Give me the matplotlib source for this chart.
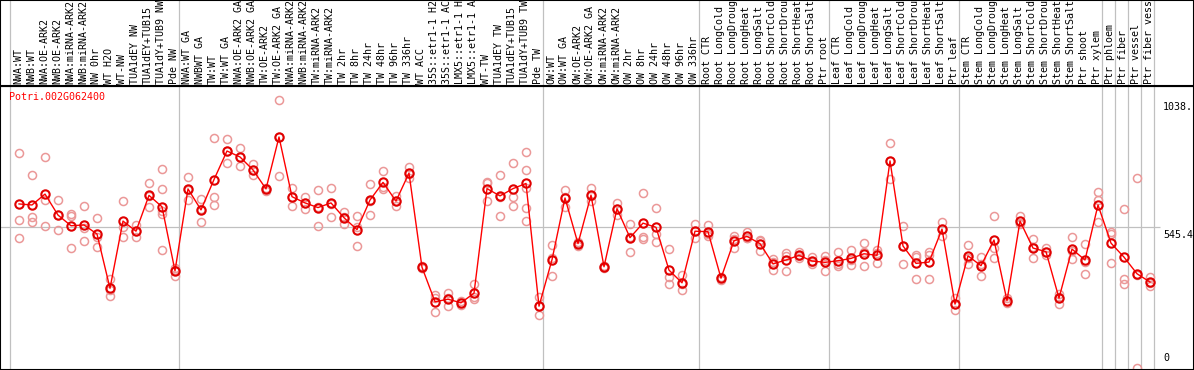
import matplotlib
matplotlib.use('Agg')
import matplotlib.pyplot as plt

GENE = 'Potri.002G062400'

# sample labels, one per column (left to right)
LAB_NW = ['NWA:WT', 'NWB:WT', 'NWA:OE-ARK2', 'NWB:OE-ARK2', 'NWA:miRNA-ARK2', 'NWB:miRNA-ARK2',
          'NW 0hr', 'WT H2O', 'WT-NW', 'TUA1dEY NW', 'TUA1dEY+TUB15', 'TUA1dY+TUB9 NW', 'Pde NW']
LAB_TW = ['NWA:WT GA', 'NWBWT GA', 'TW:WT', 'TW:WT GA', 'NWA:OE-ARK2 GA', 'NWB:OE-ARK2 GA',
          'TW:OE-ARK2', 'TW:OE-ARK2 GA', 'NWA:miRNA-ARK2 GA', 'NWB:miRNA-ARK2 GA', 'TW:miRNA-ARK2',
          'TW:miRNA-ARK2', 'TW 2hr', 'TW 8hr', 'TW 24hr', 'TW 48hr', 'TW 96hr', 'TW 336hr', 'WT ACC',
          '35S::etr1-1 H2O', '35S::etr1-1 ACC', 'LMX5::etr1-1 H2O', 'LMX5::etr1-1 ACC', 'WT-TW',
          'TUA1dEY TW', 'TUA1dEY+TUB15', 'TUA1dY+TUB9 TW', 'Pde TW']
LAB_OW = ['OW:WT', 'OW:WT GA', 'OW:OE-ARK2', 'OW:OE-ARK2 GA', 'OW:miRNA-ARK2', 'OW:miRNA-ARK2',
          'OW 2hr', 'OW 8hr', 'OW 24hr', 'OW 48hr', 'OW 96hr', 'OW 336hr']
STRESS = ['CTR', 'LongCold', 'LongDrought', 'LongHeat', 'LongSalt',
          'ShortCold', 'ShortDrought', 'ShortHeat', 'ShortSalt']
LAB_ROOT = ['Root ' + s for s in STRESS] + ['Ptr root']
LAB_LEAF = ['Leaf ' + s for s in STRESS] + ['Ptr leaf']
LAB_STEM = ['Stem ' + s for s in STRESS] + ['Ptr shoot', 'Ptr xylem']
LAB_PTR = ['Ptr phloem', 'Ptr fiber', 'Ptr vessel', 'Ptr fiber vessel']
LABELS = LAB_NW + LAB_TW + LAB_OW + LAB_ROOT + LAB_LEAF + LAB_STEM + LAB_PTR

# group boundaries (column index)
BOUNDS = [0, 13, 41, 53, 63, 73, 84, 85, 86, 87, 88]

# mean expression per sample
MEANS = [636, 632, 674, 593, 552, 555, 520, 311, 570, 531, 669, 625, 378,
         694, 613, 730, 840, 817, 767, 694, 894, 664, 640, 622, 640, 583, 537, 651, 719, 647,
         755, 392, 259, 269, 255, 292, 695, 667, 695, 715, 242,
         421, 659, 483, 670, 394, 618, 506, 562, 546, 381, 332, 531,
         529, 350, 494, 511, 483, 405, 420, 438, 416, 411,
         417, 426, 444, 438, 802, 474, 407, 412, 539, 250,
         436, 398, 497, 263, 570, 466, 452, 273, 462, 420, 632,
         485, 431, 367, 335]

# replicate values per sample
REPS = [[833, 574, 504], [748, 584, 565], [817, 652, 551], [651, 535, 593], [597, 591, 466],
        [628, 493, 543], [583, 507, 470], [347, 305, 283], [647, 549, 508], [553, 531, 507],
        [717, 624, 667], [772, 695, 607, 598, 458], [391, 360, 382],
        [740, 652, 688], [655, 566, 616], [890, 661, 632], [887, 794, 840], [852, 784, 816],
        [788, 746, 767], [697, 687, 695], [1038, 744, 893], [699, 629, 664], [663, 616, 640],
        [691, 551, 623], [699, 585, 634], [604, 557, 587], [591, 548, 475], [713, 593, 647],
        [764, 694, 700], [665, 629, 647], [780, 735, 751], [398, 389, 391], [284, 219, 273],
        [291, 241, 275], [263, 254, 248], [328, 269, 279], [717, 647, 721], [748, 591, 661],
        [794, 663, 628], [836, 767, 696, 620, 571], [278, 207, 241],
        [479, 426, 358], [691, 623, 663], [488, 475, 485], [697, 649, 665], [398, 389, 395],
        [640, 593, 618], [558, 450, 507], [678, 510, 502], [620, 520, 489], [462, 353, 328],
        [364, 304, 328], [558, 504, 531],
        [555, 513, 519], [356, 344, 349], [513, 467, 502], [526, 503, 503], [498, 454, 494],
        [422, 382, 412], [447, 376, 436], [450, 434, 429], [430, 403, 414], [435, 376, 421],
        [450, 398, 403], [458, 399, 421], [486, 395, 450], [459, 408, 447], [871, 732, 802],
        [551, 405, 472], [441, 347, 431], [452, 346, 438], [566, 513, 538], [273, 228, 250],
        [479, 405, 427], [430, 358, 405], [589, 467, 427], [273, 254, 263], [588, 562, 560],
        [499, 429, 470], [467, 439, 449], [290, 250, 279], [510, 423, 453], [481, 367, 411],
        [682, 652, 566],
        [526, 409, 520], [616, 346, 327], [736, 3, 362], [353, 320, 331]]

YTICKS = [1038, 545.4, 0]
YTICK_TXT = ['1038.', '545.4', '0']
MID = 545.4

W, H = 1194, 370
HEAD = 85.5  # header height px
FONT = 'DejaVu Sans Mono'
FS = 7.2
GRID = '#c0c0c0'
RED = '#ff0000'
PINK = '#eb9898'

# x in column units: pixel = 10 + 13*col
XL = (-10 / 13, (W - 10) / 13)
YL = (-3.9, 1092.4)
off = 9 / 13

fig = plt.figure(figsize=(W / 100, H / 100), dpi=100)
ax = fig.add_axes([0, 0, 1, (H - HEAD) / H])
hx = fig.add_axes([0, (H - HEAD) / H, 1, HEAD / H])

for a in (ax, hx):
    a.set_xlim(*XL)
    a.set_xticks([]); a.set_yticks([])
    for s in a.spines.values():
        s.set_linewidth(1.5); s.set_color('black')
    for b in BOUNDS:
        a.axvline(b, color=GRID, lw=0.9, zorder=0)
ax.set_ylim(*YL)
hx.set_ylim(0, 1)

# header labels (long ones get clipped at the top, as in the original)
for i, lab in enumerate(LABELS):
    hx.text(i + 0.62, 1.5 / HEAD, lab, rotation=90, ha='center', va='bottom',
            fontsize=FS, family=FONT, clip_on=True)

# midline
ax.hlines(MID, XL[0], (1160 - 10) / 13, color=GRID, lw=0.9, zorder=0)

xs = [i + off for i in range(len(MEANS))]
for i, r in enumerate(REPS):
    ax.plot([xs[i]] * len(r), r, 'o', mfc='none', mec=PINK, ms=5.8, mew=1.1, zorder=2)
ax.plot(xs, MEANS, '-', color=RED, lw=1, zorder=3)
ax.plot(xs, MEANS, 'o', mfc='none', mec='#e00000', ms=6, mew=1.5, zorder=4)

# value labels on the right
tx = (1163 - 10) / 13
for v, t in zip(YTICKS, YTICK_TXT):
    if v == 0:
        ax.annotate(t, (tx, v), xytext=(0, 4), textcoords='offset points',
                    ha='left', va='bottom', fontsize=FS, family=FONT)
    else:
        ax.annotate(t, (tx, v), xytext=(0, -2), textcoords='offset points',
                    ha='left', va='top', fontsize=FS, family=FONT)

ax.text(9 / W, 1 - 11.5 / (H - HEAD), GENE, transform=ax.transAxes,
        color=RED, fontsize=FS, family=FONT, va='center', ha='left')

fig.savefig('out.png', dpi=100)
